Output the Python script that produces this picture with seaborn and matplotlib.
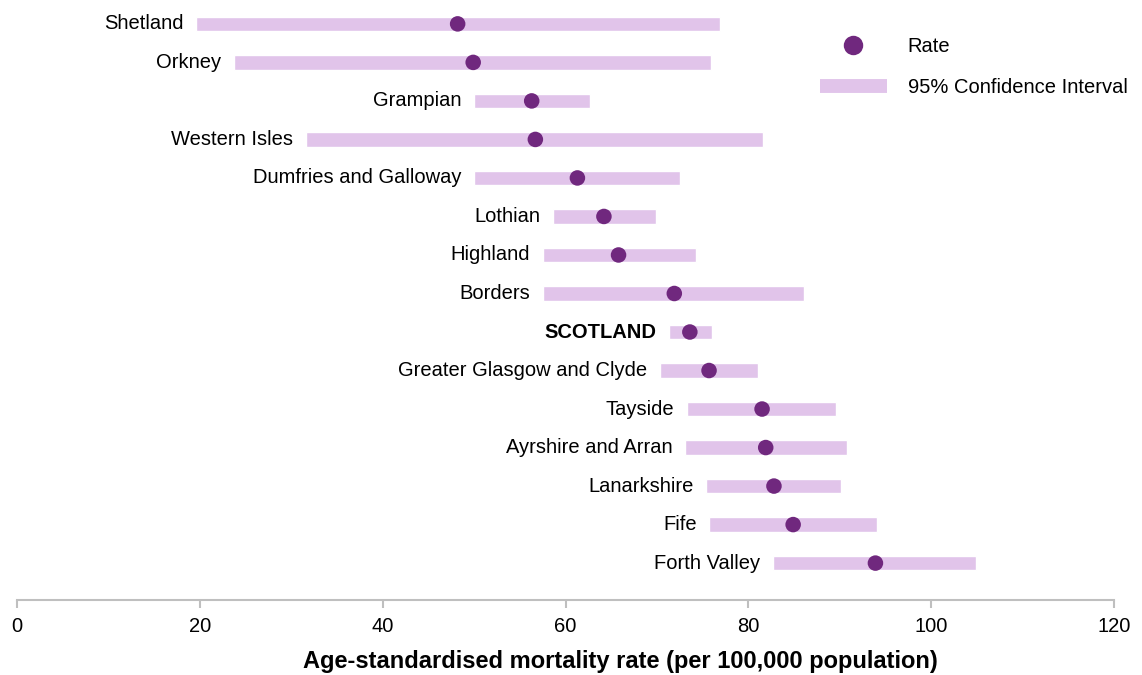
import numpy as np
import pandas as pd
import matplotlib
matplotlib.use("Agg")
import matplotlib.pyplot as plt
import seaborn as sns
from matplotlib.lines import Line2D

regions = ['Shetland', 'Orkney', 'Grampian', 'Western Isles', 'Dumfries and Galloway',
           'Lothian', 'Highland', 'Borders', 'SCOTLAND', 'Greater Glasgow and Clyde',
           'Tayside', 'Ayrshire and Arran', 'Lanarkshire', 'Fife', 'Forth Valley']
rate = [48.2, 49.9, 56.3, 56.7, 61.3, 64.2, 65.8, 71.9, 73.6, 75.7, 81.5, 81.9, 82.8, 84.9, 93.9]
ci_low = [19.6, 23.7, 50.0, 31.6, 50.0, 58.6, 57.5, 57.5, 71.3, 70.3, 73.3, 73.1, 75.4, 75.7, 82.7]
ci_high = [76.9, 75.9, 62.7, 81.6, 72.5, 69.9, 74.3, 86.1, 76.0, 81.1, 89.6, 90.8, 90.1, 94.1, 104.9]

dot_color = '#70287E'
bar_color = '#E1C4EA'
axis_color = '#BFBFBF'

df = pd.DataFrame({'region': regions, 'rate': rate, 'low': ci_low, 'high': ci_high})
df['pos'] = np.arange(len(df))

sns.set_style('white')
plt.rcParams['font.family'] = ['Liberation Sans', 'DejaVu Sans']
plt.rcParams['text.color'] = 'black'

fig = plt.figure(figsize=(11.42, 6.75), dpi=100)
ax = fig.add_axes([0.0149, 0.111, 0.9606, 0.889])

ax.barh(df['pos'], df['high'] - df['low'], left=df['low'], height=0.37,
        color=bar_color, zorder=1)
sns.scatterplot(data=df, x='rate', y='pos', s=125, color=dot_color,
                edgecolor='none', zorder=3, ax=ax, legend=False)

for _, row in df.iterrows():
    bold = row['region'] == 'SCOTLAND'
    ax.annotate(row['region'], xy=(row['low'], row['pos']), xytext=(-9, 0),
                textcoords='offset points', ha='right', va='center',
                fontsize=14.5, fontweight='bold' if bold else 'normal', color='black')

ax.set_xlim(0, 120)
ax.set_ylim(14.96, -0.62)
ax.set_xticks(np.arange(0, 121, 20))
ax.set_yticks([])
ax.set_ylabel('')
ax.set_xlabel('Age-standardised mortality rate (per 100,000 population)',
              fontsize=17, fontweight='bold', color='black')
ax.xaxis.set_label_coords(0.55, -0.083)
ax.tick_params(axis='x', labelsize=14.5, length=6, width=1.5, color=axis_color,
               labelcolor='black', direction='out', bottom=True, pad=6)
for side in ['top', 'right', 'left']:
    ax.spines[side].set_visible(False)
ax.spines['bottom'].set_color(axis_color)
ax.spines['bottom'].set_linewidth(1.5)

handles = [Line2D([0], [0], marker='o', linestyle='none', markersize=14,
                  markerfacecolor=dot_color, markeredgecolor='none', label='Rate'),
           Line2D([0], [0], color=bar_color, linewidth=10, solid_capstyle='butt',
                  label='95% Confidence Interval')]
ax.legend(handles=handles, loc='upper left', bbox_to_anchor=(0.723, 0.955), frameon=False,
          borderpad=0, fontsize=14.5, handlelength=3.3, handletextpad=1.05,
          labelspacing=1.1)

fig.savefig('out.png', dpi=100)
